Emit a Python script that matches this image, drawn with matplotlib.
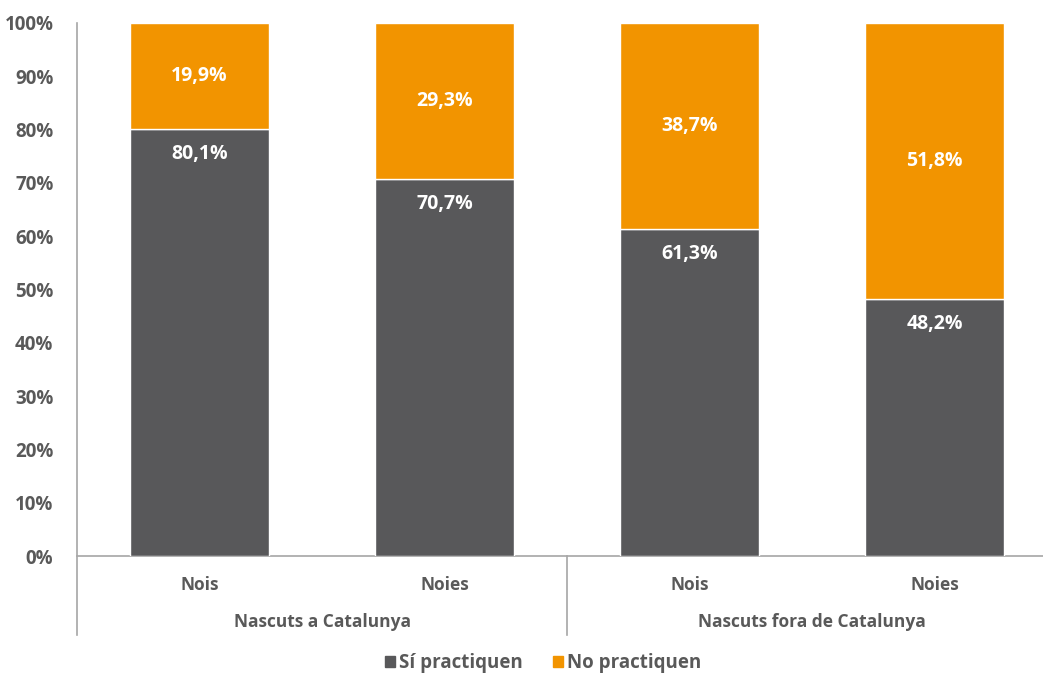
import matplotlib.pyplot as plt
from matplotlib.lines import Line2D

# percentatge de joves que practiquen / no practiquen
groups = ['Nascuts a Catalunya', 'Nascuts fora de Catalunya']
sexes = ['Nois', 'Noies', 'Nois', 'Noies']
si_practiquen = [80.1, 70.7, 61.3, 48.2]
no_practiquen = [19.9, 29.3, 38.7, 51.8]
yticks = [0, 10, 20, 30, 40, 50, 60, 70, 80, 90, 100]

plt.rcParams['font.family'] = ['Open Sans', 'DejaVu Sans']
txt = '#595959'
dark = '#58585a'
orange = '#f29400'
axcol = '#a6a6a6'

fig = plt.figure(figsize=(10.43, 6.75), dpi=100)
ax = fig.add_axes([77 / 1043, 1 - 556 / 675, 980 / 1043, 533 / 675])

x = list(range(len(sexes)))
w = 0.57
ax.bar(x, si_practiquen, w, color=dark, edgecolor='white', linewidth=1, zorder=3)
ax.bar(x, no_practiquen, w, bottom=si_practiquen, color=orange,
       edgecolor='white', linewidth=1, zorder=3)

for i in x:
    ax.text(i, si_practiquen[i] - 4.7, f'{si_practiquen[i]:.1f}%'.replace('.', ','),
            ha='center', va='center', color='white', fontsize=14, fontweight='bold', zorder=4)
    ax.text(i, si_practiquen[i] + no_practiquen[i] / 2, f'{no_practiquen[i]:.1f}%'.replace('.', ','),
            ha='center', va='center', color='white', fontsize=14, fontweight='bold', zorder=4)

ax.set_xlim(-0.5, 3.5)
ax.set_ylim(0, 100)
ax.set_yticks(yticks)
ax.set_yticklabels([f'{t}%' for t in yticks], color=txt, fontsize=13.5, fontweight='bold')
ax.tick_params(axis='y', length=0, pad=17)
ax.set_xticks([])
for s in ['top', 'right']:
    ax.spines[s].set_visible(False)
ax.spines['left'].set_visible(False)
ax.spines['bottom'].set_color(axcol)
ax.spines['bottom'].set_linewidth(1.2)

# eix vertical i separadors de grups sota l'eix
y_low = -79 / 533 * 100
for xv, top in [(-0.5, 100), (1.5, 0)]:
    ax.add_line(Line2D([xv, xv], [y_low, top], color=axcol, lw=1.2, clip_on=False))

for i, s in enumerate(sexes):
    ax.text(i, -5.4, s, ha='center', va='center', color=txt, fontsize=12.5,
            fontweight='bold', clip_on=False)
for g, name in enumerate(groups):
    ax.text(2 * g + 0.5, -12.4, name, ha='center', va='center', color=txt,
            fontsize=12.5, fontweight='bold', clip_on=False)

handles = [plt.Rectangle((0, 0), 1, 1, color=dark), plt.Rectangle((0, 0), 1, 1, color=orange)]
fig.legend(handles, ['Sí practiquen', 'No practiquen'], loc='center',
           bbox_to_anchor=(543 / 1043, 1 - 663 / 675), ncol=2, frameon=False,
           prop={'weight': 'bold', 'size': 13.5}, labelcolor=txt,
           handlelength=0.55, handleheight=0.55, handletextpad=0.2, columnspacing=1.6)

fig.savefig('out.png', dpi=100)
